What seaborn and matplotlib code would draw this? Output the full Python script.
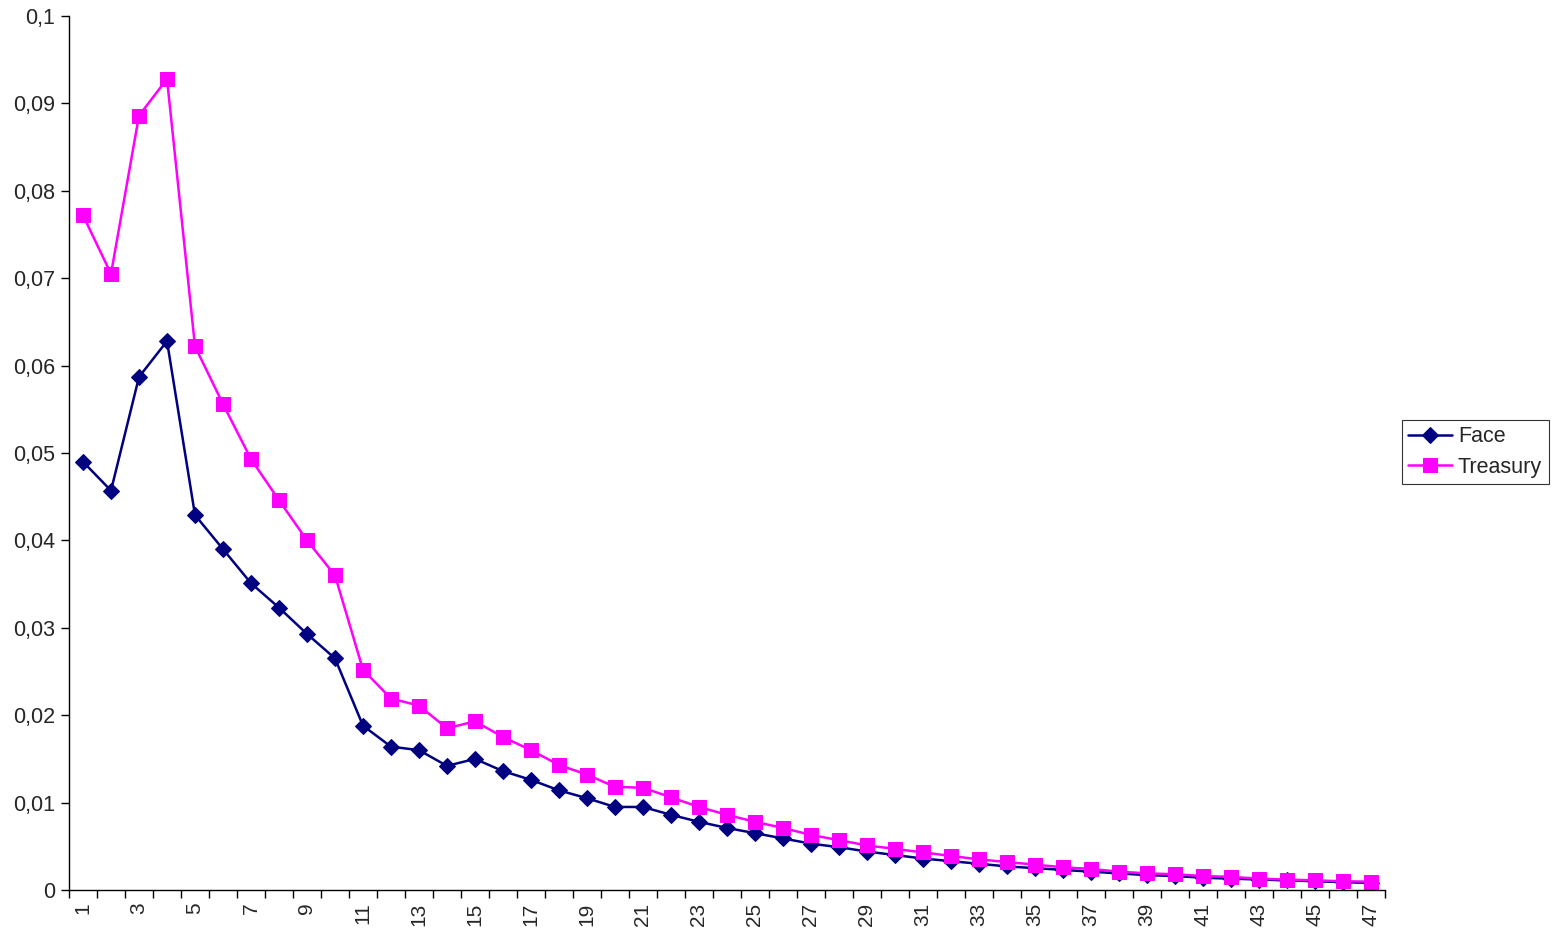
import numpy as np
import pandas as pd
import matplotlib
matplotlib.use("Agg")
import matplotlib.pyplot as plt
import seaborn as sns

# values
periods = list(range(1, 48))
face = [0.0490, 0.0457, 0.0587, 0.0628, 0.0429, 0.0390, 0.0351, 0.0323, 0.0293, 0.0265,
        0.0188, 0.0164, 0.0160, 0.0142, 0.0150, 0.0136, 0.0126, 0.0114, 0.0105, 0.0095,
        0.0095, 0.0086, 0.0078, 0.0071, 0.0065, 0.0059, 0.0053, 0.0049, 0.0044, 0.0040,
        0.0036, 0.0033, 0.0030, 0.0027, 0.0025, 0.0023, 0.0021, 0.0019, 0.0017, 0.0016,
        0.0014, 0.0013, 0.0012, 0.0011, 0.0010, 0.0009, 0.0008]
treasury = [0.0772, 0.0705, 0.0886, 0.0928, 0.0622, 0.0556, 0.0493, 0.0446, 0.0400, 0.0360,
            0.0252, 0.0219, 0.0211, 0.0185, 0.0193, 0.0175, 0.0160, 0.0143, 0.0132, 0.0118,
            0.0117, 0.0106, 0.0095, 0.0086, 0.0078, 0.0071, 0.0063, 0.0057, 0.0051, 0.0047,
            0.0043, 0.0039, 0.0035, 0.0032, 0.0029, 0.0026, 0.0024, 0.0021, 0.0019, 0.0018,
            0.0016, 0.0015, 0.0013, 0.0012, 0.0011, 0.0010, 0.00095]
y_ticks = [0, 0.01, 0.02, 0.03, 0.04, 0.05, 0.06, 0.07, 0.08, 0.09, 0.1]
y_labels = ["0", "0,01", "0,02", "0,03", "0,04", "0,05", "0,06", "0,07", "0,08", "0,09", "0,1"]

df = pd.DataFrame({"period": periods, "Face": face, "Treasury": treasury})

sns.set_style("white")
plt.rcParams['font.family'] = ['Liberation Sans', 'DejaVu Sans']

fig = plt.figure(figsize=(15.57, 9.35), dpi=100)
ax = fig.add_axes([69 / 1557, 1 - 890 / 935, (1385 - 69) / 1557, (890 - 16) / 935])

sns.lineplot(data=df, x="period", y="Face", ax=ax, color="#000080", marker="D",
             markersize=8, markeredgecolor="#000080", linewidth=1.8, label="Face")
sns.lineplot(data=df, x="period", y="Treasury", ax=ax, color="#FF00FF", marker="s",
             markersize=9.5, markeredgecolor="#FF00FF", linewidth=1.8, label="Treasury")

ax.set_xlim(0.5, 47.5)
ax.set_ylim(0, 0.1)
ax.set_xlabel("")
ax.set_ylabel("")

# category boundary ticks, labels at odd category centres
ax.set_xticks(np.arange(0.5, 48, 1))
ax.set_xticklabels([])
ax.set_xticks(periods[::2], minor=True)
ax.set_xticklabels([str(p) for p in periods[::2]], minor=True, rotation=90, fontsize=15)
ax.tick_params(axis="x", which="major", length=6, width=1, color="black", direction="out", bottom=True)
ax.tick_params(axis="x", which="minor", length=0, pad=9, bottom=True)

ax.set_yticks(y_ticks)
ax.set_yticklabels(y_labels, fontsize=15.5)
ax.tick_params(axis="y", length=6, width=1, color="black", direction="out", left=True, pad=4)

sns.despine(ax=ax)
for s in ["left", "bottom"]:
    ax.spines[s].set_color("black")
    ax.spines[s].set_linewidth(1)

leg = ax.legend(loc="center left", bbox_to_anchor=(1402 / 1557, 1 - 452 / 935),
                bbox_transform=fig.transFigure, fontsize=15.5, frameon=True, fancybox=False,
                edgecolor="black", handlelength=2.0, borderpad=0.3, labelspacing=0.45,
                handletextpad=0.3, borderaxespad=0)
leg.get_frame().set_linewidth(0.8)

fig.savefig("out.png", dpi=100)
